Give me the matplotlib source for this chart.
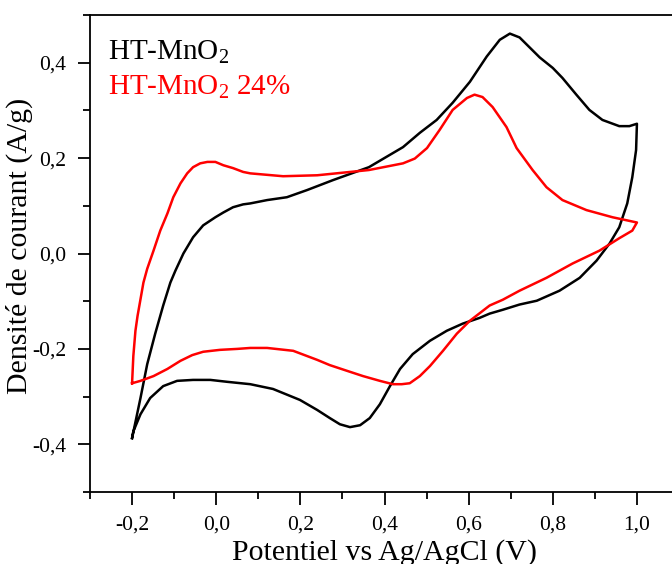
import matplotlib
matplotlib.use("Agg")
import matplotlib.pyplot as plt
from matplotlib.ticker import MultipleLocator, FixedLocator, FixedFormatter

plt.rcParams['font.family'] = ['Liberation Serif', 'DejaVu Serif']
plt.rcParams['mathtext.fontset'] = 'custom'
plt.rcParams['mathtext.rm'] = 'Liberation Serif'
plt.rcParams['mathtext.it'] = 'Liberation Serif:italic'

# HT-MnO2 (black) : potential (V), current density (A/g)
ht_v = [-0.200, -0.180, -0.164, -0.145, -0.126, -0.109, -0.097, -0.078, -0.055, -0.031,
        -0.002, 0.017, 0.040, 0.064, 0.081, 0.121, 0.168, 0.216, 0.278, 0.363,
        0.444, 0.484, 0.524, 0.562, 0.603, 0.643, 0.674, 0.698, 0.721, 0.745,
        0.769, 0.800, 0.823, 0.856, 0.887, 0.918, 0.958, 0.982, 1.000,
        0.998, 0.989, 0.977, 0.958, 0.935, 0.904, 0.864, 0.816, 0.762, 0.721,
        0.681, 0.650, 0.626, 0.586, 0.548, 0.508, 0.467, 0.437, 0.413, 0.389,
        0.365, 0.342, 0.318, 0.294, 0.270, 0.240, 0.199, 0.135, 0.081, 0.026,
        -0.014, -0.055, -0.093, -0.126, -0.157, -0.180, -0.197, -0.200]
ht_i = [-0.387, -0.303, -0.232, -0.168, -0.109, -0.061, -0.036, 0.000, 0.034, 0.059,
        0.076, 0.086, 0.097, 0.103, 0.105, 0.112, 0.118, 0.133, 0.154, 0.181,
        0.223, 0.253, 0.280, 0.316, 0.360, 0.413, 0.448, 0.461, 0.453, 0.432,
        0.411, 0.389, 0.368, 0.333, 0.301, 0.280, 0.267, 0.267, 0.272,
        0.217, 0.160, 0.105, 0.055, 0.021, -0.015, -0.051, -0.078, -0.099, -0.107,
        -0.118, -0.126, -0.135, -0.147, -0.162, -0.183, -0.211, -0.242, -0.278, -0.316,
        -0.345, -0.360, -0.364, -0.358, -0.345, -0.328, -0.307, -0.284, -0.274, -0.269,
        -0.265, -0.265, -0.267, -0.278, -0.303, -0.337, -0.373, -0.387]

# HT-MnO2 24% (red)
ht24_v = [-0.200, -0.197, -0.192, -0.187, -0.173, -0.164, -0.149, -0.133, -0.116, -0.102,
          -0.085, -0.069, -0.055, -0.038, -0.021, -0.002, 0.017, 0.040, 0.064, 0.081,
          0.159, 0.240, 0.285, 0.363, 0.444, 0.472, 0.501, 0.531, 0.562, 0.596, 0.614,
          0.633, 0.657, 0.690, 0.714, 0.752, 0.785, 0.823, 0.880, 0.942, 1.000,
          0.989, 0.958, 0.911, 0.847, 0.785, 0.721, 0.681, 0.650, 0.603, 0.572,
          0.539, 0.508, 0.484, 0.460, 0.441, 0.420, 0.389, 0.349, 0.311, 0.270,
          0.240, 0.183, 0.121, 0.081, 0.050, 0.009, -0.031, -0.057, -0.085, -0.116,
          -0.149, -0.180, -0.200]
ht24_i = [-0.272, -0.215, -0.162, -0.131, -0.061, -0.032, 0.006, 0.048, 0.084, 0.118,
          0.147, 0.168, 0.181, 0.189, 0.192, 0.192, 0.185, 0.179, 0.171, 0.168,
          0.162, 0.164, 0.168, 0.175, 0.189, 0.199, 0.221, 0.259, 0.301, 0.326, 0.333,
          0.328, 0.307, 0.265, 0.221, 0.175, 0.139, 0.112, 0.091, 0.076, 0.065,
          0.048, 0.032, 0.006, -0.021, -0.051, -0.078, -0.097, -0.109, -0.141, -0.168,
          -0.204, -0.236, -0.257, -0.272, -0.274, -0.274, -0.267, -0.257, -0.246, -0.234,
          -0.223, -0.204, -0.198, -0.198, -0.200, -0.202, -0.206, -0.213, -0.225, -0.242,
          -0.257, -0.267, -0.272]

xticks = [-0.2, 0.0, 0.2, 0.4, 0.6, 0.8, 1.0]
xticklabels = ['-0,2', '0,0', '0,2', '0,4', '0,6', '0,8', '1,0']
yticks = [-0.4, -0.2, 0.0, 0.2, 0.4]
yticklabels = ['-0,4', '-0,2', '0,0', '0,2', '0,4']

fig = plt.figure(figsize=(6.72, 5.64), dpi=100)
ax = fig.add_axes([90/672, 72/564, 589/672, 477/564])

ax.plot(ht_v, ht_i, color='black', lw=1.8, solid_joinstyle='round')
ax.plot(ht24_v, ht24_i, color='#ff0000', lw=1.8, solid_joinstyle='round')

ax.set_xlim(-0.3, 1.1)
ax.set_ylim(-0.5, 0.5)
ax.xaxis.set_major_locator(FixedLocator(xticks))
ax.xaxis.set_major_formatter(FixedFormatter(xticklabels))
ax.yaxis.set_major_locator(FixedLocator(yticks))
ax.yaxis.set_major_formatter(FixedFormatter(yticklabels))
ax.xaxis.set_minor_locator(MultipleLocator(0.1))
ax.yaxis.set_minor_locator(MultipleLocator(0.1))
ax.tick_params(which='major', direction='out', length=9, width=1.3, labelsize=15.5, pad=8)
ax.tick_params(which='minor', direction='out', length=5, width=1.3)
for s in ax.spines.values():
    s.set_linewidth(1.3)

ax.set_xlabel('Potentiel vs Ag/AgCl (V)', fontsize=21.5)
ax.set_ylabel('Densité de courant (A/g)', fontsize=21.5)
ax.xaxis.set_label_coords(0.5, -0.0985)
ax.yaxis.set_label_coords(-0.096, 0.515)

ax.text(0.0306, 0.9057, 'HT-MnO$_2$', transform=ax.transAxes, fontsize=21,
        color='black', va='baseline', ha='left')
ax.text(0.0306, 0.8323, 'HT-MnO$_2$ 24%', transform=ax.transAxes, fontsize=21,
        color='#ff0000', va='baseline', ha='left')

fig.savefig('out.png', dpi=100)
